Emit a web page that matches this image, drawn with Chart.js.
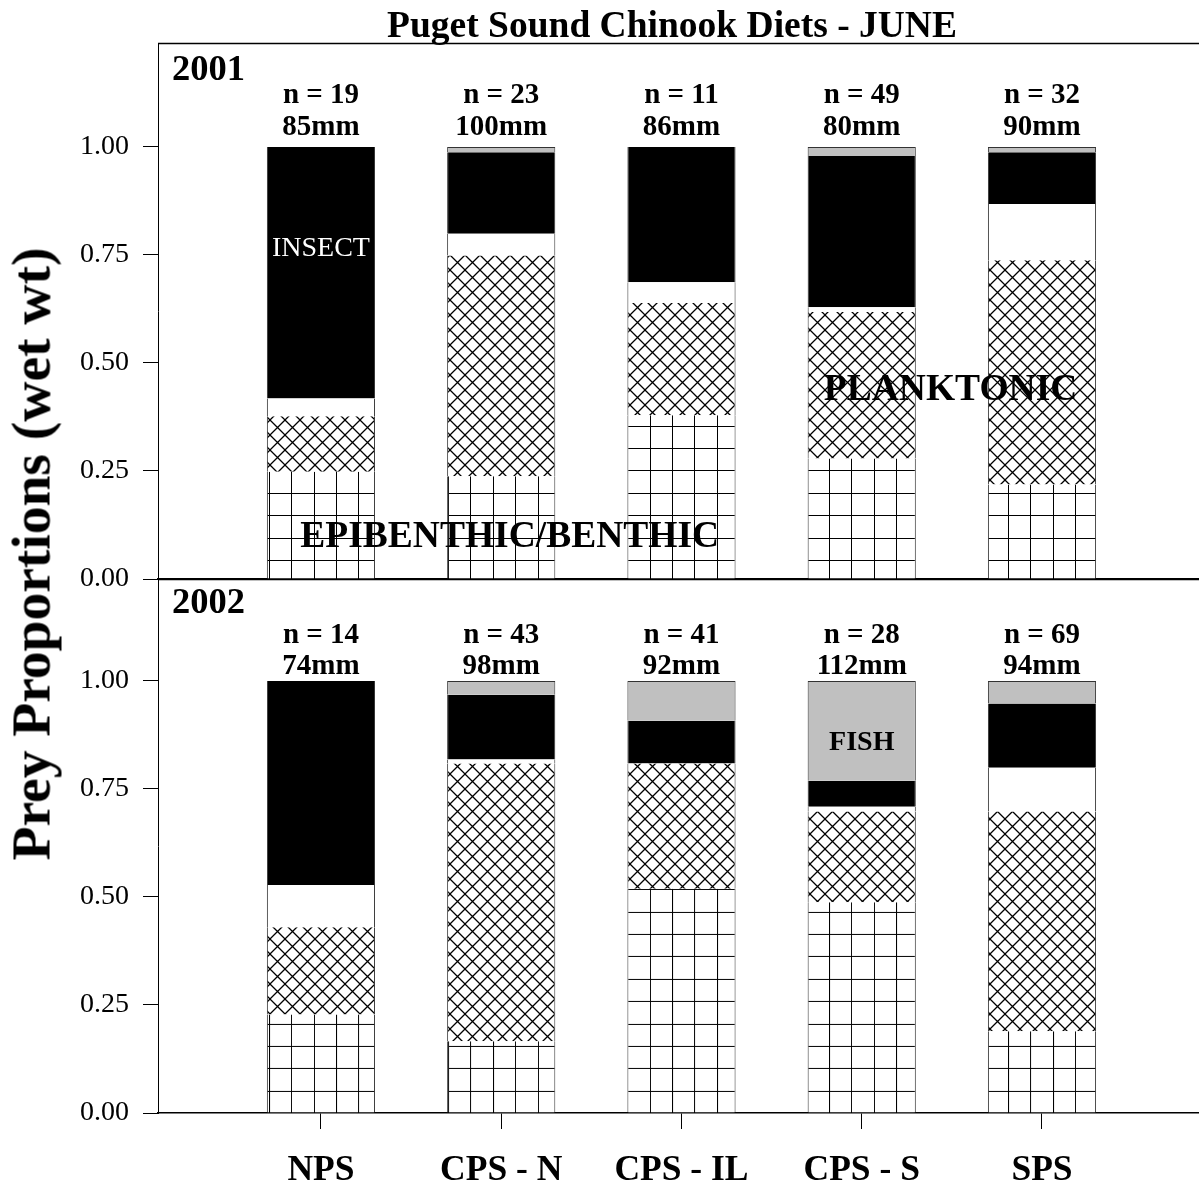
<!DOCTYPE html>
<html>
<head>
<meta charset="utf-8">
<script src="https://cdn.jsdelivr.net/npm/chart.js@4.4.1/dist/chart.umd.min.js"></script>
<style>
  body { margin: 0; background: #fff; }
  #wrap { position: relative; width: 1199px; height: 1186px; overflow: hidden; }
  #topBox { position: absolute; left: 0; top: 0; width: 1199px; height: 600px; }
  #botBox { position: absolute; left: 0; top: 579px; width: 1199px; height: 607px; }
  #ylab {
    position: absolute; left: 31px; top: 554px;
    transform: translate(-50%, -50%) rotate(-90deg);
    font: bold 55.5px "Liberation Serif", serif; white-space: nowrap; color: #000;
  }
</style>
</head>
<body>
<div id="wrap">
  <div id="topBox"><canvas id="top"></canvas></div>
  <div id="botBox"><canvas id="bot"></canvas></div>
  <div id="ylab">Prey Proportions (wet wt)</div>
</div>
<script>
const regions = ["NPS", "CPS - N", "CPS - IL", "CPS - S", "SPS"];
const yTicks = [0, 0.25, 0.5, 0.75, 1.0];

const sampleN2001 = [19, 23, 11, 49, 32];
const lengthMm2001 = [85, 100, 86, 80, 90];
const sampleN2002 = [14, 43, 41, 28, 69];
const lengthMm2002 = [74, 98, 92, 112, 94];

// prey proportions, stacked bottom to top
const benthic2001 = [0.248, 0.238, 0.379, 0.279, 0.219];
const planktonic2001 = [0.129, 0.511, 0.260, 0.339, 0.519];
const other2001 = [0.041, 0.050, 0.048, 0.011, 0.130];
const insect2001 = [0.582, 0.189, 0.313, 0.350, 0.120];
const fish2001 = [0, 0.012, 0, 0.021, 0.012];

const benthic2002 = [0.228, 0.166, 0.519, 0.488, 0.189];
const planktonic2002 = [0.202, 0.643, 0.290, 0.210, 0.509];
const other2002 = [0.098, 0.009, 0, 0.011, 0.101];
const insect2002 = [0.472, 0.150, 0.099, 0.060, 0.149];
const fish2002 = [0, 0.032, 0.092, 0.231, 0.052];

const SERIF = '"Liberation Serif", serif';

// square grid fill (epibenthic/benthic)
function gridPattern(ctx, offY) {
  const c = document.createElement("canvas");
  c.width = 224; c.height = 224;
  const g = c.getContext("2d");
  g.fillStyle = "#fff"; g.fillRect(0, 0, 224, 224);
  g.fillStyle = "#000";
  for (let k = 0; k < 10; k++) {
    const p = Math.round(k * 22.4);
    g.fillRect(p, 0, 1, 224);
    g.fillRect(0, p, 224, 1);
  }
  const pat = ctx.createPattern(c, "repeat");
  pat.setTransform(new DOMMatrix().translate(0, offY));
  return pat;
}

// diagonal cross-hatch fill (planktonic)
function crossPattern(ctx) {
  const s = 15;
  const c = document.createElement("canvas");
  c.width = s; c.height = s;
  const g = c.getContext("2d");
  g.fillStyle = "#fff"; g.fillRect(0, 0, s, s);
  g.strokeStyle = "#000"; g.lineWidth = 1.3;
  g.beginPath();
  g.moveTo(-1, -1); g.lineTo(s + 1, s + 1);
  g.moveTo(s + 1, -1); g.lineTo(-1, s + 1);
  g.stroke();
  return ctx.createPattern(c, "repeat");
}

function toPoints(arr) {
  return arr.map((v, i) => ({ x: i, y: v }));
}

function makeTextPlugin(cfg) {
  return {
    id: "panelText" + cfg.year,
    afterDatasetsDraw(chart) {
      const { ctx, chartArea, scales: { x, y } } = chart;
      ctx.save();
      // frame top line
      ctx.strokeStyle = "#000"; ctx.lineWidth = 1.5;
      ctx.beginPath();
      ctx.moveTo(chartArea.left, chartArea.top + 0.5);
      ctx.lineTo(chartArea.right, chartArea.top + 0.5);
      ctx.stroke();

      ctx.fillStyle = "#000";
      if (cfg.title) {
        ctx.textAlign = "center";
        ctx.textBaseline = "alphabetic";
        ctx.font = "bold 37.5px " + SERIF;
        ctx.fillText(cfg.title, 672, 37);
      }
      ctx.textAlign = "left";
      ctx.textBaseline = "alphabetic";
      ctx.font = "bold 36.5px " + SERIF;
      ctx.fillText(String(cfg.year), chartArea.left + 14, chartArea.top + cfg.yearDy);

      ctx.textAlign = "center";
      ctx.font = "bold 29px " + SERIF;
      regions.forEach((r, i) => {
        const px = x.getPixelForValue(i);
        ctx.fillText("n = " + cfg.n[i], px, y.getPixelForValue(cfg.nY));
        ctx.fillText(cfg.mm[i] + "mm", px, y.getPixelForValue(cfg.mmY));
      });

      ctx.textBaseline = "middle";
      cfg.notes.forEach(nt => {
        ctx.font = nt.font;
        ctx.fillStyle = nt.color;
        ctx.fillText(nt.text, x.getPixelForValue(nt.x), y.getPixelForValue(nt.y));
      });
      ctx.restore();
    }
  };
}

function makeChart(canvasId, year, data, cfg) {
  const ctx = document.getElementById(canvasId).getContext("2d");
  const edge = { left: 1, right: 1, top: 0, bottom: 0 };
  const series = [
    { label: "Epibenthic/Benthic", values: data.benthic, bg: gridPattern(ctx, cfg.gridOffY), bw: edge },
    { label: "Planktonic", values: data.planktonic, bg: crossPattern(ctx), bw: edge },
    { label: "Other", values: data.other, bg: "#ffffff", bw: edge },
    { label: "Insect", values: data.insect, bg: "#000000", bw: edge },
    { label: "Fish", values: data.fish, bg: "#c0c0c0", bw: { left: 1, right: 1, top: 1, bottom: 0 } }
  ];
  return new Chart(ctx, {
    type: "bar",
    data: {
      datasets: series.map(s => ({
        label: s.label,
        data: toPoints(s.values),
        backgroundColor: s.bg,
        borderColor: "#333",
        borderWidth: s.bw,
        borderSkipped: false,
        categoryPercentage: 1.0,
        barPercentage: 0.6
      }))
    },
    options: {
      responsive: true,
      maintainAspectRatio: false,
      animation: false,
      layout: { padding: { top: cfg.padTop, left: 0, right: 0, bottom: 0 } },
      plugins: { legend: { display: false }, tooltip: { enabled: false } },
      scales: {
        x: {
          type: "linear",
          stacked: true,
          offset: false,
          min: -0.904,
          max: 4.871,
          afterBuildTicks: s => { s.ticks = regions.map((r, i) => ({ value: i })); },
          afterFit: s => { s.height = cfg.xHeight; s.paddingLeft = 0; s.paddingRight = 0; },
          ticks: {
            display: cfg.showX,
            padding: 21,
            color: "#000",
            font: { family: SERIF, size: 35.5, weight: "bold" },
            callback: v => regions[v]
          },
          grid: { offset: false, drawOnChartArea: false, drawTicks: cfg.showX, tickLength: 16, color: "#000" },
          border: { display: true, color: "#000", width: 1.5 }
        },
        y: {
          stacked: true,
          min: 0,
          max: cfg.yMax,
          afterBuildTicks: s => { s.ticks = yTicks.map(v => ({ value: v })); },
          afterFit: s => { s.width = 158; s.paddingTop = 0; s.paddingBottom = 0; },
          ticks: {
            padding: 14,
            color: "#000",
            font: { family: SERIF, size: 28 },
            callback: v => Number(v).toFixed(2)
          },
          grid: { drawOnChartArea: false, tickLength: 15, color: "#000" },
          border: { display: true, color: "#000", width: 1 }
        }
      }
    },
    plugins: [makeTextPlugin(Object.assign({ year: year }, cfg))]
  });
}

makeChart("top", 2001, {
  benthic: benthic2001, planktonic: planktonic2001, other: other2001, insect: insect2001, fish: fish2001
}, {
  title: "Puget Sound Chinook Diets - JUNE",
  n: sampleN2001, mm: lengthMm2001, nY: 1.102, mmY: 1.028, yearDy: 37,
  padTop: 43, xHeight: 21, showX: false, yMax: 1.2407, gridOffY: 0,
  notes: [
    { text: "INSECT", x: 0, y: 0.764, font: "28px " + SERIF, color: "#fff" },
    { text: "EPIBENTHIC/BENTHIC", x: 1.047, y: 0.097, font: "bold 37.5px " + SERIF, color: "#000" },
    { text: "PLANKTONIC", x: 3.493, y: 0.4375, font: "bold 37.5px " + SERIF, color: "#000" }
  ]
});

makeChart("bot", 2002, {
  benthic: benthic2002, planktonic: planktonic2002, other: other2002, insect: insect2002, fish: fish2002
}, {
  title: null,
  n: sampleN2002, mm: lengthMm2002, nY: 1.089, mmY: 1.015, yearDy: 34,
  padTop: 0, xHeight: 73, showX: true, yMax: 1.236, gridOffY: 18.9,
  notes: [
    { text: "FISH", x: 3, y: 0.857, font: "bold 28px " + SERIF, color: "#000" }
  ]
});
</script>
</body>
</html>
